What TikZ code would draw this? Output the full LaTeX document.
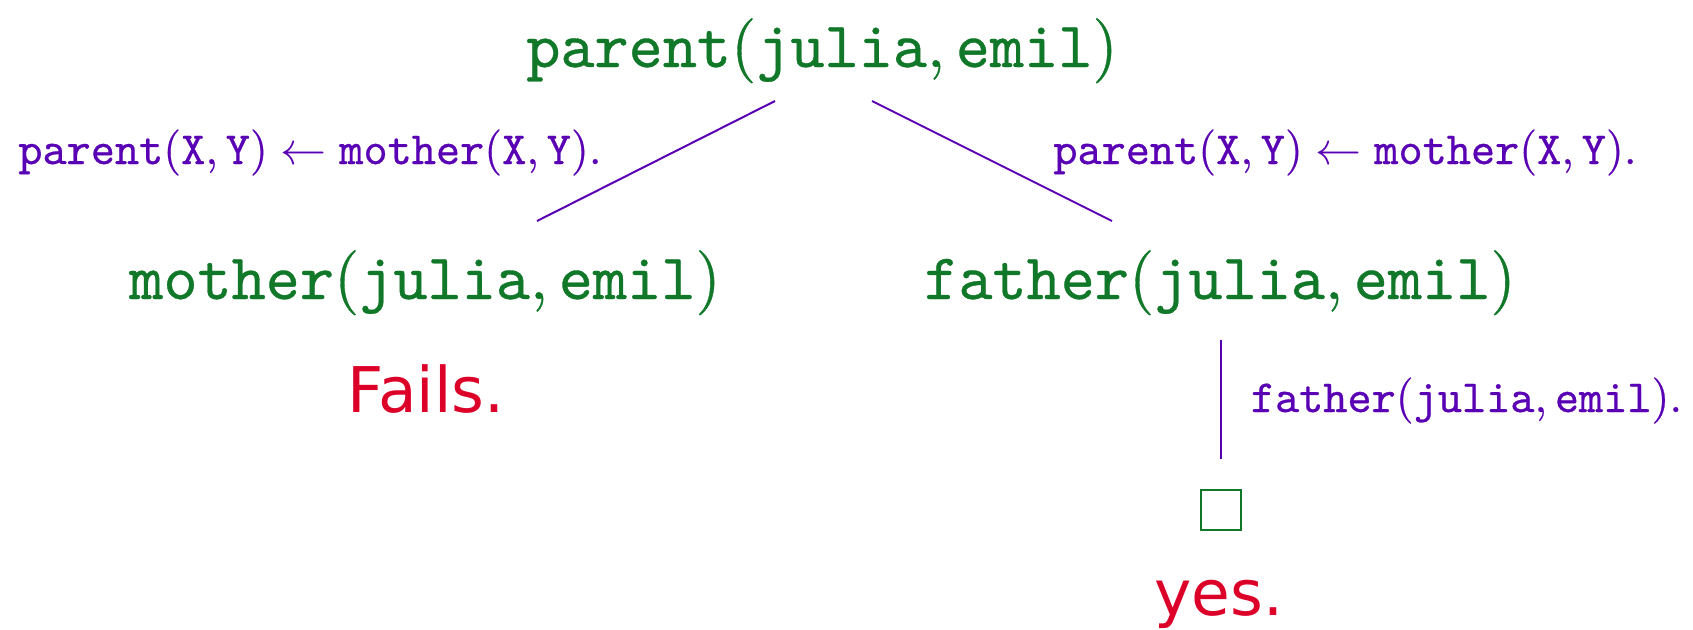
\documentclass[tikz,border=0pt]{standalone}
\usepackage{fontspec}
\setmonofont{Latin Modern Mono}[FakeBold=0.5]
\newfontfamily\parfont{Latin Modern Roman}[FakeBold=0.5]
\newfontfamily\verdictfont{DejaVu Sans}
\definecolor{tgreen}{RGB}{16,120,40}
\definecolor{tpurple}{RGB}{90,0,180}
\definecolor{tred}{RGB}{220,0,40}
\newcommand{\tm}[1]{\mathtt{#1}}
\newcommand{\lp}{\mathopen{\mbox{\parfont(}}}
\newcommand{\rp}{\mathclose{\mbox{\parfont)}}}
\newcommand{\cm}{\mathpunct{\mbox{\parfont,}}}
\newcommand{\pd}{\mbox{\parfont.}}
\begin{document}
\begin{tikzpicture}[x=0.5pt,y=-0.5pt,
  goal/.style={text=tgreen,inner sep=0pt,anchor=base,font=\normalsize,scale=3.25},
  rule/.style={text=tpurple,inner sep=0pt,anchor=base,font=\normalsize,scale=2.3},
  verdict/.style={text=tred,inner sep=0pt,anchor=base,font=\verdictfont\normalsize,scale=3.15},
  edge/.style={draw=tpurple,line width=1pt},
  emptybox/.style={draw=tgreen,line width=0.75pt,minimum size=20pt,inner sep=0pt}]
\useasboundingbox (0,0) rectangle (1693,629);
\node[goal] (root) at (822,67) {$\tm{parent}\lp\tm{julia}\cm\tm{emil}\rp$};
\node[goal] (mother) at (425,299) {$\tm{mother}\lp\tm{julia}\cm\tm{emil}\rp$};
\node[goal] (father) at (1220,299) {$\tm{father}\lp\tm{julia}\cm\tm{emil}\rp$};
\node[rule] (lrule) at (310,164) {$\tm{parent}\lp\tm{X}\cm\tm{Y}\rp\leftarrow\tm{mother}\lp\tm{X}\cm\tm{Y}\rp\pd$};
\node[rule] (rrule) at (1345,164) {$\tm{parent}\lp\tm{X}\cm\tm{Y}\rp\leftarrow\tm{mother}\lp\tm{X}\cm\tm{Y}\rp\pd$};
\node[rule,anchor=base west] (frule) at (1250,412) {$\tm{father}\lp\tm{julia}\cm\tm{emil}\rp\pd$};
\node[verdict] (fails) at (426,412) {Fails.};
\node[emptybox] (box) at (1221,510) {};
\node[verdict] (yes) at (1219,615) {yes.};
\coordinate (l1) at (775,101);
\coordinate (l2) at (537,221);
\coordinate (r1) at (872,101);
\coordinate (r2) at (1112,221);
\coordinate (v1) at (1221,340);
\coordinate (v2) at (1221,459);
\draw[edge] (l1) -- (l2);
\draw[edge] (r1) -- (r2);
\draw[edge] (v1) -- (v2);
\end{tikzpicture}
\end{document}
